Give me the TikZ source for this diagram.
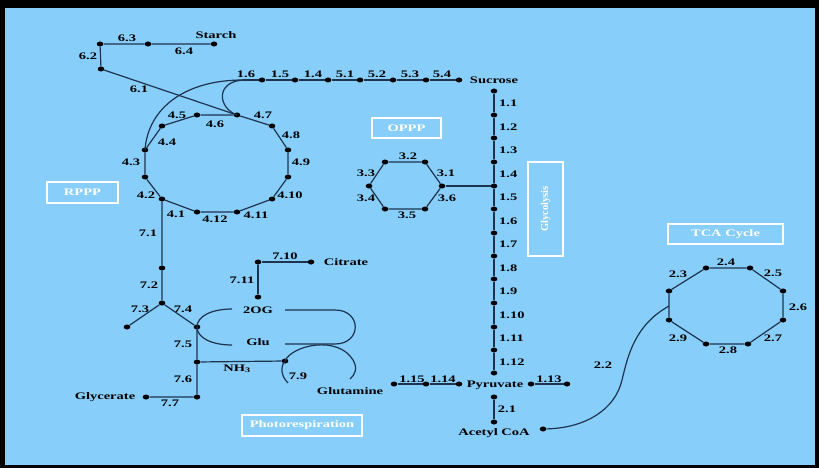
\documentclass[tikz,border=0pt]{standalone}
\usepackage{fontspec}
\setmainfont{Liberation Serif}[FakeStretch=1.45]
\newfontfamily\plainserif{Liberation Serif}
\usetikzlibrary{shapes.geometric}
\definecolor{bgblue}{RGB}{135,206,250}
\definecolor{lncol}{RGB}{30,52,78}
\begin{document}
\begin{tikzpicture}[x=1pt,y=-1pt,
  pdot/.style={ellipse,fill=black,inner sep=0pt,minimum width=6.6pt,minimum height=5pt},
  lab/.style={inner sep=0pt,font=\fontsize{10}{11}\selectfont\bfseries},
  labw/.style={lab,anchor=west},
  boxlab/.style={draw=white,line width=1.6pt,text=white,inner sep=0pt,font=\fontsize{10}{11}\selectfont\bfseries},
  ln/.style={draw=lncol,line width=1.2pt}]
\useasboundingbox (0,0) rectangle (819,468);
\fill[black] (0,0) rectangle (819,468);
\fill[bgblue] (5,8) rectangle (815,465);

% boxes
\node[boxlab,minimum width=69pt,minimum height=20pt] (boppp) at (406.5,128) {OPPP};
\node[boxlab,minimum width=71pt,minimum height=21pt] (brppp) at (82.5,192.5) {RPPP};
\node[boxlab,minimum width=115pt,minimum height=20pt] (btca) at (725.5,234) {TCA Cycle};
\node[boxlab,minimum width=120pt,minimum height=21pt] (bphot) at (302,425.5) {Photorespiration};
\node[boxlab,minimum width=94pt,minimum height=35pt,rotate=90,font=\plainserif\fontsize{10.5}{11}\selectfont\bfseries] (bglyc) at (545.5,209) {Glycolysis};

% starch branch
\node[pdot] (s63a) at (100,44) {};
\node[pdot] (s63b) at (148,44) {};
\node[pdot] (sst) at (214,44) {};
\node[pdot] (s62) at (101,69) {};
\node[lab] (lstarch) at (216,35.5) {Starch};
\node[lab] (l63) at (127,38) {6.3};
\node[lab] (l64) at (184,51) {6.4};
\node[lab] (l62) at (88,56) {6.2};
\node[lab] (l61) at (139,89) {6.1};

% ring 4
\node[pdot] (r47) at (237,115) {};
\node[pdot] (r48) at (272,126) {};
\node[pdot] (r49a) at (288,150) {};
\node[pdot] (r49b) at (288,177) {};
\node[pdot] (r410) at (272,199) {};
\node[pdot] (r411) at (237,212) {};
\node[pdot] (r412) at (197,212) {};
\node[pdot] (r41) at (162,199) {};
\node[pdot] (r42) at (145,177) {};
\node[pdot] (r43) at (145,150) {};
\node[pdot] (r44) at (162,126) {};
\node[pdot] (r45) at (197,115) {};
\draw[ln] (r47) -- (r48) -- (r49a) -- (r49b) -- (r410) -- (r411) -- (r412) -- (r41) -- (r42) -- (r43) -- (r44) -- (r45) -- (r47);
\node[lab] (l47) at (263,115) {4.7};
\node[lab] (l48) at (291,135) {4.8};
\node[lab] (l49) at (301,162) {4.9};
\node[lab] (l410) at (290,195) {4.10};
\node[lab] (l411) at (256,215) {4.11};
\node[lab] (l412) at (215,219) {4.12};
\node[lab] (l41) at (176,214) {4.1};
\node[lab] (l42) at (146,195) {4.2};
\node[lab] (l43) at (131,162) {4.3};
\node[lab] (l44) at (167,142) {4.4};
\node[lab] (l45) at (177,115) {4.5};
\node[lab] (l46) at (215,124) {4.6};

\draw[ln] (sst) -- (s63b) -- (s63a) -- (s62) -- (r47);

% top row
\coordinate (c16) at (243,80);
\node[pdot] (t1) at (262,80) {};
\node[pdot] (t2) at (295,80) {};
\node[pdot] (t3) at (328,80) {};
\node[pdot] (t4) at (360,80) {};
\node[pdot] (t5) at (393,80) {};
\node[pdot] (t6) at (426,80) {};
\node[pdot] (t7) at (459,80) {};
\draw[ln] (c16) -- (t1) -- (t2) -- (t3) -- (t4) -- (t5) -- (t6) -- (t7);
\draw[ln] (r43.center) .. controls (148,108) and (185,80) .. (c16);
\draw[ln] (c16) .. controls (215,82) and (218,108) .. (r47.center);
\node[lab] (l16) at (246,74) {1.6};
\node[lab] (l15) at (280,74) {1.5};
\node[lab] (l14) at (313,74) {1.4};
\node[lab] (l51) at (345,74) {5.1};
\node[lab] (l52) at (377,74) {5.2};
\node[lab] (l53) at (410,74) {5.3};
\node[lab] (l54) at (442,74) {5.4};
\node[lab] (lsuc) at (494,80) {Sucrose};

% glycolysis
\foreach \i/\y in {0/91,1/115,2/138,3/162,4/186,5/209,6/233,7/256,8/279,9/303,10/327,11/350,12/373}
  \node[pdot] (g\i) at (494,\y) {};
\draw[ln] (g0) -- (g1) -- (g2) -- (g3) -- (g4) -- (g5) -- (g6) -- (g7) -- (g8) -- (g9) -- (g10) -- (g11) -- (g12);
\foreach \i/\y in {1/103,2/127,3/150,4/174,5/197,6/221,7/244,8/268,9/291,10/315,11/338,12/362}
  \node[labw] (lg\i) at (499,\y) {1.\i};

% OPPP hexagon
\node[pdot] (h1) at (442,186) {};
\node[pdot] (h2) at (425,162) {};
\node[pdot] (h3) at (385,162) {};
\node[pdot] (h4) at (369,186) {};
\node[pdot] (h5) at (385,209) {};
\node[pdot] (h6) at (425,209) {};
\draw[ln] (h1) -- (h2) -- (h3) -- (h4) -- (h5) -- (h6) -- (h1);
\draw[ln] (h1) -- (g4);
\node[lab] (l31) at (446,173) {3.1};
\node[lab] (l32) at (408,156) {3.2};
\node[lab] (l33) at (366,173) {3.3};
\node[lab] (l34) at (366,198) {3.4};
\node[lab] (l35) at (407,215) {3.5};
\node[lab] (l36) at (447,198) {3.6};

% pyruvate row
\node[pdot] (p15) at (394,384) {};
\node[pdot] (p14) at (426,384) {};
\node[pdot] (p14b) at (459,384) {};
\node[pdot] (p13a) at (531,384) {};
\node[pdot] (p13b) at (567,384) {};
\draw[ln] (p15) -- (p14) -- (p14b);
\draw[ln] (p13a) -- (p13b);
\node[lab] (lpyr) at (495,385) {Pyruvate};
\node[lab] (l115) at (412,379) {1.15};
\node[lab] (l114) at (443,379) {1.14};
\node[lab] (l113) at (549,379) {1.13};
\node[pdot] (a1) at (494,397) {};
\node[pdot] (a2) at (494,422) {};
\draw[ln] (a1) -- (a2);
\node[lab] (l21) at (507,409) {2.1};
\node[lab] (lacoa) at (494,433) {Acetyl CoA};
\node[pdot] (acd) at (543,429) {};

% TCA ring
\node[pdot] (t23) at (669,291) {};
\node[pdot] (t24a) at (706,268) {};
\node[pdot] (t24b) at (750,268) {};
\node[pdot] (t25) at (783,291) {};
\node[pdot] (t26) at (783,320) {};
\node[pdot] (t27) at (748,344) {};
\node[pdot] (t28) at (706,344) {};
\node[pdot] (t29) at (669,320) {};
\draw[ln] (t23) -- (t24a) -- (t24b) -- (t25) -- (t26) -- (t27) -- (t28) -- (t29) -- (t23);
\node[lab] (l23) at (678,274) {2.3};
\node[lab] (l24) at (726,262) {2.4};
\node[lab] (l25) at (773,273) {2.5};
\node[lab] (l26) at (798,307) {2.6};
\node[lab] (l27) at (773,338) {2.7};
\node[lab] (l28) at (728,350) {2.8};
\node[lab] (l29) at (678,338) {2.9};
\coordinate (c22) at (669,306);
\draw[ln] (c22) .. controls (635,325) and (628,355) .. (622,380) .. controls (615,410) and (585,428) .. (acd);
\node[lab] (l22) at (603,365) {2.2};

% photorespiration branch
\node[pdot] (n72) at (162,268) {};
\node[pdot] (n7j) at (162,303) {};
\node[pdot] (n73) at (127,327) {};
\node[pdot] (n74) at (197,327) {};
\node[pdot] (n75) at (197,362) {};
\node[pdot] (n76) at (197,397) {};
\node[pdot] (ngly) at (146,397) {};
\node[pdot] (n79) at (285,361) {};
\draw[ln] (r41) -- (n72) -- (n7j) -- (n73);
\draw[ln] (n7j) -- (n74) -- (n75) -- (n76) -- (ngly);
\draw[ln] (n75) -- (n79);
\node[lab] (l71) at (148,233) {7.1};
\node[lab] (l72) at (149,285) {7.2};
\node[lab] (l73) at (140,309) {7.3};
\node[lab] (l74) at (183,309) {7.4};
\node[lab] (l75) at (183,344) {7.5};
\node[lab] (l76) at (183,379) {7.6};
\node[lab] (l77) at (170,403) {7.7};
\node[lab] (lglyc) at (105,397) {Glycerate};
\node[lab] (lnh3) at (237,369) {NH\textsubscript{3}};
\node[lab] (l79) at (298,376) {7.9};

\node[pdot] (n710a) at (258,262) {};
\node[pdot] (n710b) at (311,262) {};
\node[pdot] (n711) at (258,297) {};
\draw[ln] (n710b) -- (n710a) -- (n711);
\node[lab] (l710) at (285,256) {7.10};
\node[lab] (l711) at (242,280) {7.11};
\node[lab] (lcit) at (346,262) {Citrate};
\node[lab] (l2og) at (258,310) {2OG};
\node[lab] (lglu) at (258,342) {Glu};
\node[lab] (lgln) at (350,391) {Glutamine};

% curved conversion loops
\draw[ln] (232,309) .. controls (212,309) and (197,316) .. (n74.center) .. controls (197,338) and (212,345) .. (232,345);
\draw[ln] (285,310) -- (335,310) .. controls (362,310) and (362,344) .. (335,344) -- (285,344);
\draw[ln] (288,383) .. controls (281,376) and (280,367) .. (n79.center) .. controls (292,345) and (338,335) .. (353,360) .. controls (358,368) and (355,375) .. (350,379);
\end{tikzpicture}
\end{document}
